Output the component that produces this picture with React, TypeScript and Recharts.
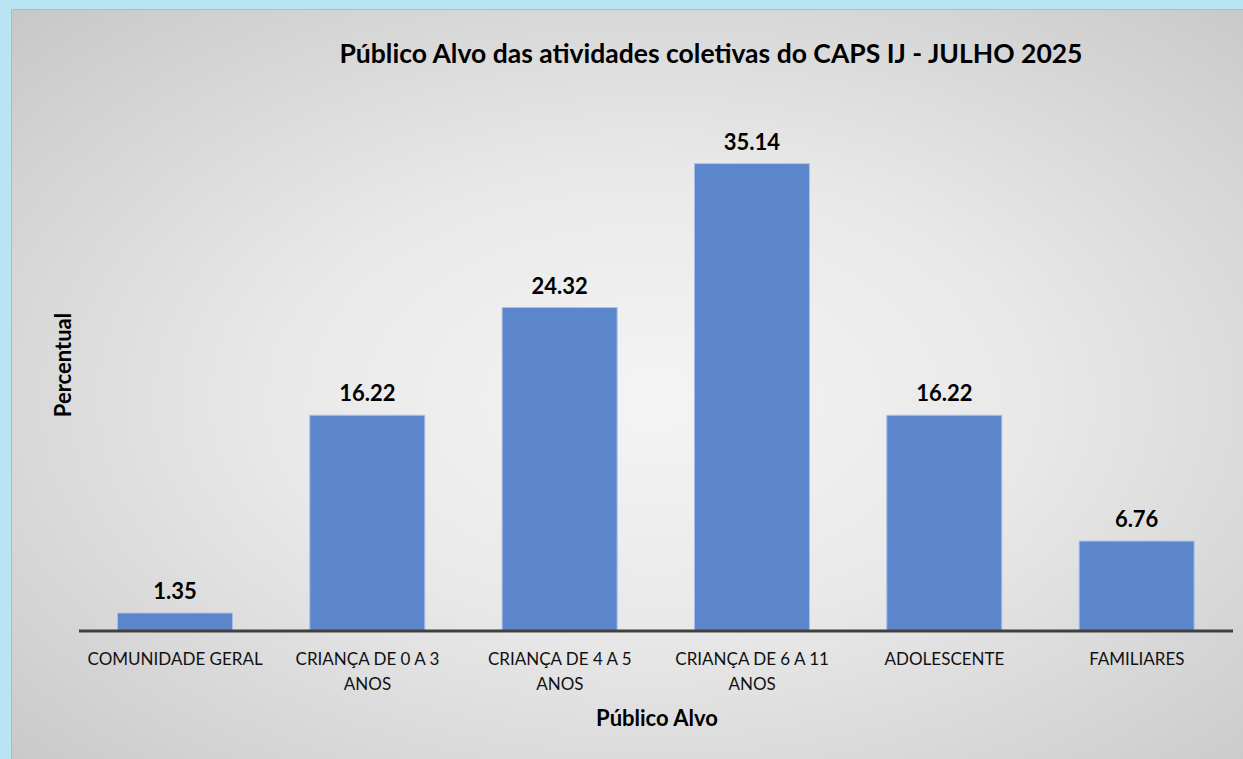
import { BarChart, Bar, XAxis, YAxis, LabelList, Text } from "recharts";

const categorias = [
    "COMUNIDADE GERAL",
    "CRIANÇA DE 0 A 3 ANOS",
    "CRIANÇA DE 4 A 5 ANOS",
    "CRIANÇA DE 6 A 11 ANOS",
    "ADOLESCENTE",
    "FAMILIARES",
];

const percentuais = [1.35, 16.22, 24.32, 35.14, 16.22, 6.76];

const dados = categorias.map((categoria, i) => ({
    categoria,
    percentual: percentuais[i],
}));

const FONTE = "Lato, 'Open Sans', sans-serif";

const TickQuebrado = (props: any) => {
    const { x, y, payload } = props;
    return (
        <Text
            x={x}
            y={y + 14}
            width={170}
            textAnchor="middle"
            verticalAnchor="start"
            lineHeight={25}
            style={{ fontFamily: FONTE, fontSize: 17, fill: "#111" }}
        >
            {payload.value}
        </Text>
    );
};

export default function App() {
    return (
        <div style={{
            position: "absolute",
            left: 0,
            top: 0,
            width: 1243,
            height: 759,
            backgroundColor: "#b9e4f4",
            overflow: "hidden",
        }}>
            <div style={{
                position: "absolute",
                left: 11,
                top: 9,
                width: 1232,
                height: 750,
                boxSizing: "border-box",
                borderTop: "1px solid #b8b8b8",
                borderLeft: "1px solid #b8b8b8",
                background: "radial-gradient(ellipse 75% 75% at 52% 52%, #f4f4f4 0%, #e9e9e9 40%, #d2d2d2 80%, #c6c6c6 100%)",
            }}>
                <div style={{
                    position: "absolute",
                    left: 0,
                    top: 27,
                    width: 1232,
                    paddingLeft: 166,
                    boxSizing: "border-box",
                    textAlign: "center",
                    fontFamily: FONTE,
                    fontWeight: 700,
                    fontSize: 26.5,
                    color: "#000",
                }}>
                    Público Alvo das atividades coletivas do CAPS IJ - JULHO 2025
                </div>
                <div style={{
                    position: "absolute",
                    left: 51 - 80,
                    top: 355 - 14,
                    width: 160,
                    textAlign: "center",
                    transform: "rotate(-90deg)",
                    fontFamily: FONTE,
                    fontWeight: 700,
                    fontSize: 22,
                    lineHeight: "28px",
                    color: "#000",
                }}>
                    Percentual
                </div>
                <div style={{
                    position: "absolute",
                    left: 0,
                    top: 694,
                    width: 1232,
                    paddingLeft: 58,
                    boxSizing: "border-box",
                    textAlign: "center",
                    fontFamily: FONTE,
                    fontWeight: 700,
                    fontSize: 22,
                    lineHeight: "28px",
                    color: "#000",
                }}>
                    Público Alvo
                </div>
                <div style={{ position: "absolute", left: 0, top: 0 }}>
                    <BarChart
                        width={1232}
                        height={750}
                        data={dados}
                        margin={{ top: 89, right: 11, bottom: 69, left: 67 }}
                        barCategoryGap="20%"
                    >
                        <YAxis hide domain={[0, 40]} />
                        <XAxis
                            dataKey="categoria"
                            height={60}
                            interval={0}
                            tickLine={false}
                            axisLine={{ stroke: "#404040", strokeWidth: 3 }}
                            tick={<TickQuebrado />}
                        />
                        <Bar
                            dataKey="percentual"
                            fill="#5b86cc"
                            stroke="#a8c0e8"
                            strokeWidth={1}
                            isAnimationActive={false}
                        >
                            <LabelList
                                dataKey="percentual"
                                position="top"
                                offset={14}
                                formatter={(v: any) => Number(v).toFixed(2)}
                                style={{ fontFamily: FONTE, fontWeight: 700, fontSize: 22, fill: "#000" }}
                            />
                        </Bar>
                    </BarChart>
                </div>
            </div>
        </div>
    );
}
